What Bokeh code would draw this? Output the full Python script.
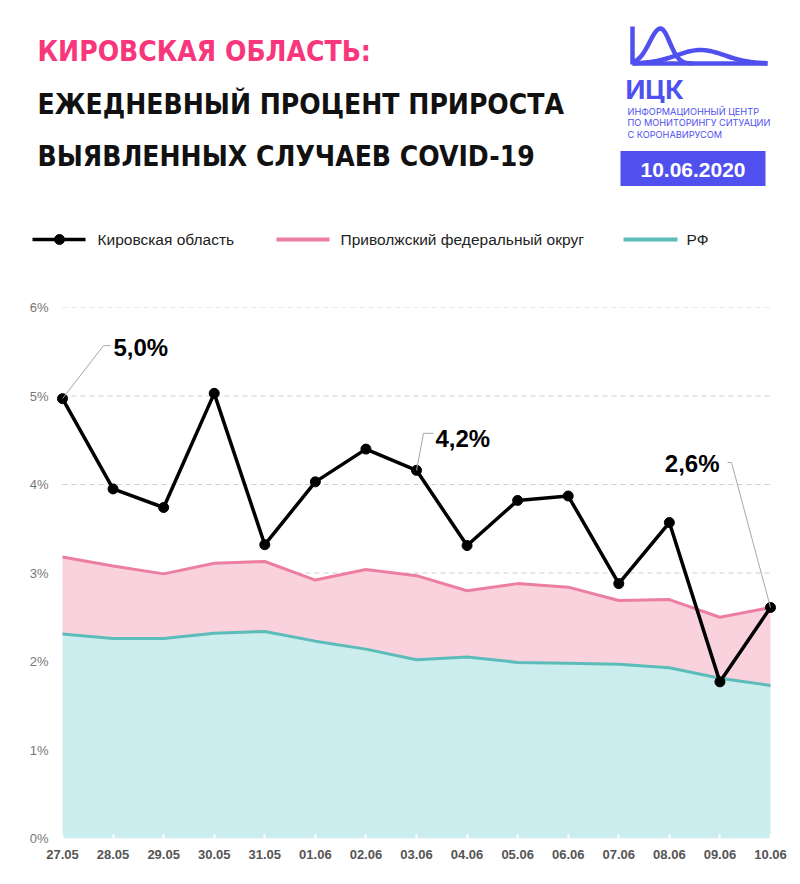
import numpy as np
from bokeh.plotting import figure
from bokeh.models import Range1d, Label, FixedTicker
from bokeh.embed import file_html
from bokeh.resources import INLINE

# ---------------- data ----------------
dates = ["27.05", "28.05", "29.05", "30.05", "31.05", "01.06", "02.06", "03.06",
         "04.06", "05.06", "06.06", "07.06", "08.06", "09.06", "10.06"]
kirov = [4.97, 3.95, 3.74, 5.03, 3.32, 4.03, 4.40, 4.16, 3.31, 3.82, 3.87, 2.88, 3.57, 1.77, 2.61]
pfo = [3.18, 3.08, 2.99, 3.11, 3.13, 2.92, 3.04, 2.97, 2.80, 2.88, 2.84, 2.69, 2.70, 2.50, 2.61]
rf = [2.31, 2.26, 2.26, 2.32, 2.34, 2.23, 2.14, 2.02, 2.05, 1.99, 1.98, 1.97, 1.93, 1.81, 1.73]
y_ticks = [0, 1, 2, 3, 4, 5, 6]
legend_labels = ["Кировская область", "Приволжский федеральный округ", "РФ"]
title_lines = ["КИРОВСКАЯ ОБЛАСТЬ:", "ЕЖЕДНЕВНЫЙ ПРОЦЕНТ ПРИРОСТА", "ВЫЯВЛЕННЫХ СЛУЧАЕВ COVID-19"]
logo_lines = ["ИНФОРМАЦИОННЫЙ ЦЕНТР", "ПО МОНИТОРИНГУ СИТУАЦИИ", "С КОРОНАВИРУСОМ"]
report_date = "10.06.2020"
annotated = [0, 7, 14]

# ---------------- styles ----------------
PINK_T = "#f7367c"
BLUE = "#5050ef"
K_COL = "#000000"
P_LINE = "#ec7fa1"
P_FILL = "#f9d2de"
R_LINE = "#5bbcba"
R_FILL = "#cbeded"
TITLE_FONT = "DejaVu Sans Condensed"
SANS = "Liberation Sans"

W = 800
H_HEAD = 280
H_CHART = 596
BORDER_L = 56
BORDER_R = 24

# ---------------- header (canvas pixel coordinates) ----------------
head = figure(width=W, height=H_HEAD, x_range=Range1d(0, W), y_range=Range1d(H_HEAD, 0),
              x_axis_type=None, y_axis_type=None, toolbar_location=None,
              output_backend="svg", min_border=0)
head.outline_line_color = None
head.grid.visible = False
head.background_fill_color = "white"
head.border_fill_color = "white"

for i, (txt, yy) in enumerate(zip(title_lines, [50.5, 103.5, 155.5])):
    head.add_layout(Label(x=37, y=yy, text=txt, text_font=TITLE_FONT, text_font_style="bold",
                          text_font_size="28px", text_color=PINK_T if i == 0 else "#111111",
                          text_baseline="middle", text_align="left"))

# logo: vertical bar, base line and two bell curves
BX, BY = 632, 63
head.line([BX, BX], [26, BY + 1], line_color=BLUE, line_width=4.5)
head.line([BX, 767], [BY, BY], line_color=BLUE, line_width=4.5)
x1 = np.linspace(BX, 692, 70)
s1 = np.where(x1 < 660, 15.5, 13.0)
head.line(x1, BY - 35 * np.exp(-((x1 - 660) / s1) ** 2), line_color=BLUE, line_width=4.5,
          line_join="round")
x2 = np.linspace(BX, 767, 90)
head.line(x2, BY - 13.5 * np.exp(-((x2 - 700) / 34) ** 2), line_color=BLUE, line_width=4.5,
          line_join="round")

head.add_layout(Label(x=625, y=88.5, text="ИЦК", text_font="Inter", text_font_style="bold",
                      text_font_size="26px", text_color=BLUE, text_baseline="middle"))
for txt, yy in zip(logo_lines, [110.5, 122, 133.5]):
    head.add_layout(Label(x=627, y=yy, text=txt, text_font="Inter", text_font_size="9.2px",
                          text_color=BLUE, text_baseline="middle"))
head.quad(left=620, right=765, top=150.5, bottom=185.5, fill_color=BLUE, line_color=None)
head.add_layout(Label(x=692.5, y=169, text=report_date, text_font=SANS, text_font_style="bold",
                      text_font_size="21px", text_color="white", text_baseline="middle",
                      text_align="center"))

# legend
LY = 239
head.line([32, 85], [LY, LY], line_color=K_COL, line_width=3.5)
head.scatter([59], [LY], size=10, color=K_COL)
head.line([276, 329], [LY, LY], line_color=P_LINE, line_width=4)
head.line([623, 677], [LY, LY], line_color=R_LINE, line_width=4)
for txt, xx in zip(legend_labels, [97, 340, 686]):
    head.add_layout(Label(x=xx, y=LY, text=txt, text_font=SANS, text_font_size="15.5px",
                          text_color="#222222", text_baseline="middle"))

# ---------------- chart ----------------
n = len(dates)
xs = list(range(n))
FRAME_W = W - BORDER_L - BORDER_R
FRAME_H = 531
X_PAD = 0.1186
ppx = FRAME_W / (n - 1 + 2 * X_PAD)
ppy = FRAME_H / (y_ticks[-1] - y_ticks[0])

p = figure(width=W, height=H_CHART, x_range=Range1d(-X_PAD, n - 1 + X_PAD),
           y_range=Range1d(y_ticks[0], y_ticks[-1]), toolbar_location=None, output_backend="svg",
           min_border_left=BORDER_L, min_border_right=BORDER_R, min_border_top=27,
           min_border_bottom=H_CHART - 27 - FRAME_H)
p.outline_line_color = None
p.grid.visible = False
p.background_fill_color = "white"
p.border_fill_color = "white"

# dashed grid
p.segment(x0=[0] * (len(y_ticks) - 1), x1=[n - 1] * (len(y_ticks) - 1), y0=y_ticks[1:], y1=y_ticks[1:],
          line_color="#cfcfcf", line_width=1, line_dash="5 4")

p.varea(x=xs, y1=[0] * n, y2=rf, fill_color=R_FILL)
p.varea(x=xs, y1=rf, y2=pfo, fill_color=P_FILL)
p.line(xs, pfo, line_color=P_LINE, line_width=3)
p.line(xs, rf, line_color=R_LINE, line_width=3)
p.line(xs, kirov, line_color=K_COL, line_width=3.5, line_join="round")
p.scatter(xs, kirov, size=10, color=K_COL)

# annotations: (leader bend dx,dy, leader end dx, label dx, label dy, align) in pixels
ann_style = {
    0: (41, 53, 48, 51, 51, "left"),
    7: (7, 37, 17, 19, 32, "left"),
    14: (-39, 145, -43, -51, 144, "right"),
}
for i in annotated:
    bdx, bdy, edx, ldx, ldy, al = ann_style[i]
    x0, y0 = xs[i], kirov[i]
    p.line([x0, x0 + bdx / ppx, x0 + edx / ppx], [y0, y0 + bdy / ppy, y0 + bdy / ppy],
           line_color="#a8a8a8", line_width=1)
    txt = f"{kirov[i]:.1f}".replace(".", ",") + "%"
    p.add_layout(Label(x=x0 + ldx / ppx, y=y0 + ldy / ppy, text=txt, text_font=SANS,
                       text_font_style="bold", text_font_size="24px", text_color="#000000",
                       text_baseline="middle", text_align=al))

# axes
p.xaxis.ticker = FixedTicker(ticks=xs)
p.xaxis.major_label_overrides = {i: d for i, d in enumerate(dates)}
p.xaxis.axis_line_color = None
p.xaxis.major_tick_line_color = "white"
p.xaxis.major_tick_line_width = 2
p.xaxis.major_tick_in = 4
p.xaxis.major_tick_out = 0
p.xaxis.minor_tick_line_color = None
p.xaxis.major_label_standoff = 11
p.xaxis.major_label_text_font = SANS
p.xaxis.major_label_text_font_style = "bold"
p.xaxis.major_label_text_font_size = "13px"
p.xaxis.major_label_text_color = "#555555"

p.yaxis.ticker = FixedTicker(ticks=y_ticks)
p.yaxis.major_label_overrides = {t_: f"{t_}%" for t_ in y_ticks}
p.yaxis.axis_line_color = None
p.yaxis.major_tick_line_color = None
p.yaxis.major_tick_out = 0
p.yaxis.major_tick_in = 0
p.yaxis.minor_tick_line_color = None
p.yaxis.major_label_standoff = 8
p.yaxis.major_label_text_font = SANS
p.yaxis.major_label_text_font_size = "13px"
p.yaxis.major_label_text_color = "#777777"

open("out.html", "w").write(file_html([head, p], INLINE))
